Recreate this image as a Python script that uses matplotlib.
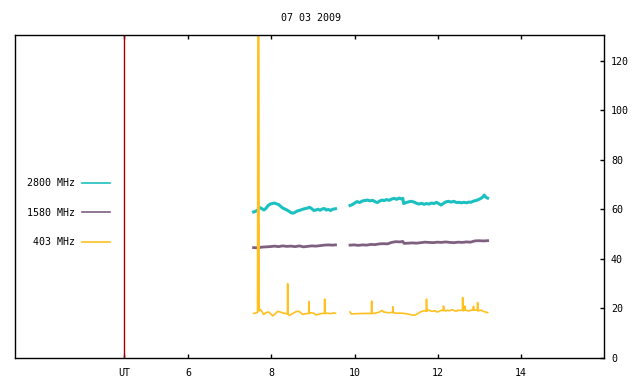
import matplotlib
matplotlib.use('Agg')
import matplotlib.pyplot as plt

# --- data (UT hours, solar flux) ---
title = '07 03 2009'
ut_marker = 4.46

t2800_a = [7.57, 7.62, 7.67, 7.72, 7.77, 7.82, 7.87, 7.92, 7.97, 8.02, 8.07, 8.12, 8.17, 8.22,
           8.27, 8.32, 8.37, 8.42, 8.47, 8.52, 8.57, 8.62, 8.67, 8.72, 8.77, 8.82, 8.87, 8.92,
           8.97, 9.02, 9.07, 9.12, 9.17, 9.22, 9.27, 9.32, 9.37, 9.42, 9.47, 9.54]
v2800_a = [59.0, 59.3, 59.8, 60.8, 60.3, 59.8, 60.5, 61.6, 62.2, 62.4, 62.6, 62.3, 62.0, 61.3,
           60.6, 60.2, 59.8, 59.3, 58.7, 58.5, 58.9, 59.4, 59.6, 59.9, 60.2, 60.4, 60.6, 60.9,
           60.3, 59.6, 59.8, 60.1, 59.7, 60.2, 60.4, 59.8, 60.0, 59.6, 60.1, 60.3]
t2800_b = [9.89, 9.95, 10.00, 10.06, 10.12, 10.18, 10.24, 10.31, 10.37, 10.43, 10.47, 10.51,
           10.55, 10.60, 10.66, 10.71, 10.77, 10.83, 10.89, 10.95, 11.01, 11.07, 11.12, 11.16,
           11.18, 11.24, 11.30, 11.36, 11.43, 11.49, 11.55, 11.61, 11.67, 11.73, 11.79, 11.85,
           11.91, 11.97, 12.03, 12.08, 12.14, 12.20, 12.26, 12.32, 12.39, 12.45, 12.51, 12.57,
           12.63, 12.69, 12.75, 12.80, 12.86, 12.92, 12.98, 13.04, 13.08, 13.12, 13.16, 13.20]
v2800_b = [61.6, 62.0, 62.6, 63.2, 62.8, 63.4, 63.6, 63.8, 63.5, 63.7, 63.4, 63.0,
           62.8, 63.4, 63.8, 63.6, 64.0, 63.7, 64.2, 64.5, 64.1, 64.6, 64.3, 64.5,
           62.4, 62.8, 63.1, 63.3, 63.0, 62.5, 62.2, 62.5, 62.1, 62.4, 62.2, 62.6,
           62.4, 62.9, 62.3, 61.8, 62.5, 63.1, 63.3, 63.0, 63.3, 62.8, 62.9, 62.7,
           62.9, 62.7, 63.0, 62.9, 63.4, 63.6, 64.0, 64.5, 65.0, 65.8, 64.9, 64.6]

t1580_a = [7.57, 7.67, 7.77, 7.87, 7.97, 8.07, 8.17, 8.27, 8.37, 8.47, 8.57, 8.67, 8.77, 8.87,
           8.97, 9.07, 9.17, 9.27, 9.37, 9.47, 9.54]
v1580_a = [44.6, 44.5, 44.8, 44.9, 45.0, 45.2, 45.0, 45.3, 45.1, 45.2, 45.0, 45.3, 44.9, 45.1,
           45.3, 45.2, 45.4, 45.6, 45.7, 45.6, 45.7]
t1580_b = [9.89, 9.99, 10.09, 10.19, 10.29, 10.39, 10.49, 10.59, 10.69, 10.79, 10.89, 10.99,
           11.09, 11.16, 11.19, 11.29, 11.39, 11.49, 11.59, 11.69, 11.79, 11.89, 11.99, 12.09,
           12.19, 12.29, 12.39, 12.49, 12.59, 12.69, 12.79, 12.89, 12.99, 13.09, 13.20]
v1580_b = [45.6, 45.7, 45.5, 45.7, 45.6, 45.9, 45.8, 46.1, 46.2, 46.1, 46.7, 47.0,
           46.9, 47.1, 46.3, 46.4, 46.5, 46.4, 46.6, 46.8, 46.7, 46.6, 46.8, 46.7,
           46.9, 46.7, 46.6, 46.8, 46.7, 46.9, 46.8, 47.3, 47.4, 47.3, 47.4]

t403_a = [7.57, 7.62, 7.665, 7.675, 7.695, 7.705, 7.73, 7.77, 7.81, 7.87, 7.93, 7.98, 8.03, 8.08,
          8.15, 8.21, 8.27, 8.33, 8.385, 8.39, 8.395, 8.43, 8.50, 8.59, 8.65, 8.70, 8.75, 8.82,
          8.895, 8.90, 8.905, 8.95, 9.02, 9.07, 9.13, 9.20, 9.275, 9.28, 9.285, 9.35, 9.42, 9.48,
          9.54]
v403_a = [18.0, 18.2, 18.4, 140, 140, 19.0, 19.6, 18.8, 17.6, 18.3, 18.6, 17.9, 17.0, 17.7,
          18.8, 18.6, 18.2, 18.0, 17.8, 30.0, 17.7, 17.2, 17.9, 18.7, 18.9, 18.4, 17.6, 17.9,
          18.0, 22.8, 18.0, 18.3, 18.1, 17.4, 17.6, 18.0, 18.0, 23.8, 18.0, 18.1, 17.9, 18.2,
          18.1]
t403_b = [9.89, 9.92, 10.05, 10.20, 10.35, 10.405, 10.41, 10.415, 10.50, 10.60, 10.66, 10.70,
          10.80, 10.915, 10.92, 10.925, 11.00, 11.10, 11.20, 11.30, 11.40, 11.46, 11.52, 11.58,
          11.63, 11.68, 11.725, 11.73, 11.735, 11.78, 11.83, 11.88, 11.93, 11.98, 12.03, 12.08,
          12.135, 12.14, 12.145, 12.19, 12.24, 12.29, 12.34, 12.39, 12.44, 12.49, 12.54, 12.595,
          12.60, 12.605, 12.645, 12.65, 12.655, 12.70, 12.75, 12.80, 12.855, 12.86, 12.865,
          12.90, 12.955, 12.96, 12.965, 13.00, 13.05, 13.10, 13.15, 13.20]
v403_b = [18.6, 17.8, 17.9, 18.0, 18.0, 18.0, 23.0, 18.0, 18.1, 18.6, 19.2, 18.6,
          18.3, 18.4, 20.7, 18.4, 18.1, 18.1, 18.0, 17.7, 17.3, 17.4, 17.9, 18.6,
          18.9, 19.1, 18.8, 23.8, 19.0, 19.4, 19.0, 18.9, 19.1, 18.6, 18.8, 19.3,
          19.1, 21.0, 19.4, 19.0, 19.3, 19.1, 19.5, 19.2, 18.9, 19.3, 19.2, 19.4,
          24.4, 19.1, 19.3, 21.0, 19.5, 19.2, 19.0, 19.4, 19.3, 20.9, 19.5,
          19.3, 19.4, 22.4, 19.0, 19.2, 19.3, 18.8, 18.6, 18.3]

x_ticks = [ut_marker, 6, 8, 10, 12, 14]
x_ticklabels = ['UT', '6', '8', '10', '12', '14']
y_ticks = [0, 20, 40, 60, 80, 100, 120]

c2800 = '#1cc0c0'
c1580 = '#7e5f80'
c403 = '#ffc020'
c_ut = '#a00000'

font = 'DejaVu Sans Mono'
fs = 7.2

fig = plt.figure(figsize=(6.4, 3.84), dpi=100)
ax = fig.add_axes([15 / 640, 26 / 384, 589 / 640, 323 / 384])

ax.axvline(ut_marker, color=c_ut, lw=1)

ax.plot(t2800_a, v2800_a, color=c2800, lw=2.2, label='2800 MHz')
ax.plot(t2800_b, v2800_b, color=c2800, lw=2.2)
ax.plot(t1580_a, v1580_a, color=c1580, lw=2.0, label='1580 MHz')
ax.plot(t1580_b, v1580_b, color=c1580, lw=2.0)
ax.plot(t403_a, v403_a, color=c403, lw=1.2, label='403 MHz')
ax.plot(t403_b, v403_b, color=c403, lw=1.2)

ax.set_xlim(1.83, 16.0)
ax.set_ylim(0, 130.5)

ax.set_xticks(x_ticks)
ax.set_xticklabels(x_ticklabels, fontfamily=font, fontsize=fs)
ax.set_yticks(y_ticks)
ax.set_yticklabels([str(v) for v in y_ticks], fontfamily=font, fontsize=fs)
ax.tick_params(axis='x', direction='in', length=3, width=1, top=True, bottom=True, pad=7)
ax.tick_params(axis='y', direction='in', length=3, width=1, left=False, right=True,
               labelleft=False, labelright=True, pad=5)
for s in ax.spines.values():
    s.set_linewidth(1)

fig.text(311 / 640, 1 - 18 / 384, title, fontfamily=font, fontsize=fs,
         ha='center', va='center')

leg = ax.legend(loc='upper right', bbox_to_anchor=(110 / 640, 1 - 178 / 384),
                bbox_transform=fig.transFigure, frameon=False, markerfirst=False,
                prop={'family': font, 'size': fs}, handlelength=2.8, handletextpad=0.7,
                labelspacing=1.95, borderpad=0, borderaxespad=0)
for line in leg.get_lines():
    line.set_linewidth(1.2)

fig.savefig('out.png', dpi=100)
